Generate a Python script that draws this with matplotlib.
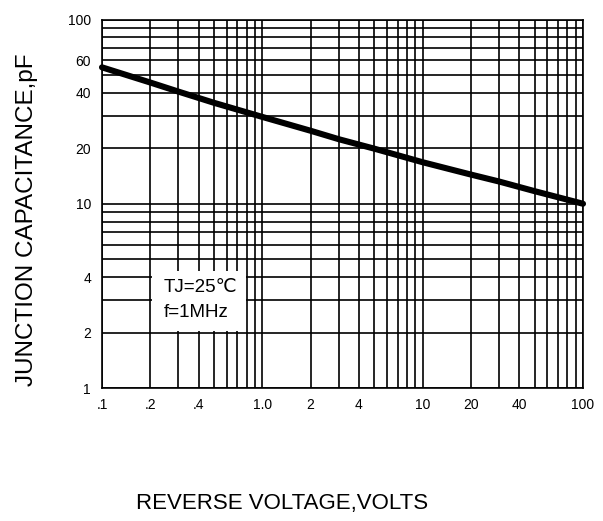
import matplotlib
matplotlib.use("Agg")
import matplotlib.pyplot as plt
from matplotlib.patches import Rectangle
from matplotlib.ticker import FixedLocator, FixedFormatter, LogLocator, NullFormatter

plt.rcParams['font.family'] = ['Liberation Sans', 'DejaVu Sans']

# Data
voltage = [0.1, 0.2, 0.3, 0.5, 1.0, 2.0, 3.0, 5.0, 10.0, 20.0, 30.0, 50.0, 100.0]
capacitance = [55.0, 45.5, 40.6, 35.3, 29.6, 24.9, 22.4, 19.9, 16.8, 14.4, 13.2, 11.7, 10.0]

xtick_vals = [0.1, 0.2, 0.4, 1.0, 2, 4, 10, 20, 40, 100]
xtick_labels = [".1", ".2", ".4", "1.0", "2", "4", "10", "20", "40", "100"]
ytick_vals = [1, 2, 4, 10, 20, 40, 60, 100]
ytick_labels = ["1", "2", "4", "10", "20", "40", "60", "100"]

fig = plt.figure(figsize=(6.03, 5.21), dpi=100)
ax = fig.add_axes([102/603, 1 - 388/521, (583-102)/603, (388-19.5)/521])

ax.set_xscale('log')
ax.set_yscale('log')
ax.set_xlim(0.1, 100)
ax.set_ylim(1, 100)

ax.xaxis.set_major_locator(FixedLocator(xtick_vals))
ax.xaxis.set_major_formatter(FixedFormatter(xtick_labels))
ax.yaxis.set_major_locator(FixedLocator(ytick_vals))
ax.yaxis.set_major_formatter(FixedFormatter(ytick_labels))
ax.xaxis.set_minor_locator(LogLocator(base=10, subs=range(1, 10), numticks=20))
ax.yaxis.set_minor_locator(LogLocator(base=10, subs=range(1, 10), numticks=20))
ax.xaxis.set_minor_formatter(NullFormatter())
ax.yaxis.set_minor_formatter(NullFormatter())

ax.set_axisbelow(True)
ax.grid(True, which='both', color='black', linewidth=1.2)
ax.tick_params(which='both', length=0, labelsize=10, colors='black')
ax.tick_params(axis='x', pad=7)
ax.tick_params(axis='y', pad=8)
for s in ax.spines.values():
    s.set_color('black')
    s.set_linewidth(1.2)

ax.add_patch(Rectangle((0.205, 2.04), 0.79 - 0.205, 4.3 - 2.04,
                       facecolor='white', edgecolor='none', zorder=1))
ax.text(0.243, 3.32, "TJ=25\u2103", fontsize=13.5, va='baseline', ha='left', zorder=2)
ax.text(0.243, 2.42, "f=1MHz", fontsize=13.5, va='baseline', ha='left', zorder=2)

ax.plot(voltage, capacitance, color='black', linewidth=4.4, solid_capstyle='round', zorder=3, clip_on=False)

fig.text(282/603, 1 - 504/521, "REVERSE VOLTAGE,VOLTS", fontsize=16, ha='center', va='center')
fig.text(27/603, 1 - 220/521, "JUNCTION CAPACITANCE,pF", fontsize=17.5, ha='center', va='center', rotation=90)

fig.savefig("out.png", dpi=100, facecolor='white')
